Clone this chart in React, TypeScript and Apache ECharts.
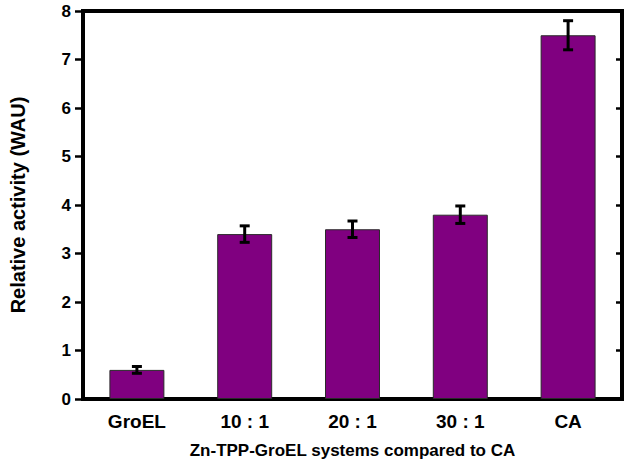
import React, { useEffect, useRef } from "react";
import * as echarts from "echarts";

const categories = ["GroEL", "10 : 1", "20 : 1", "30 : 1", "CA"];
const activity = [0.6, 3.4, 3.5, 3.8, 7.5];
const errors = [0.07, 0.17, 0.17, 0.18, 0.3];

const FONT = "'Liberation Sans', Arial, sans-serif";
const INK = "#000000";

export default function App() {
  const ref = useRef<HTMLDivElement>(null);
  useEffect(() => {
    if (!ref.current) return;
    const chart = echarts.init(ref.current, null, { renderer: "svg" });
    const errData = categories.map((c, i) => [i, activity[i] - errors[i], activity[i] + errors[i]]);
    chart.setOption({
      animation: false,
      grid: {
        left: 80,
        right: 7,
        top: 11,
        bottom: 70,
        show: true,
        borderColor: INK,
        borderWidth: 4,
      },
      xAxis: [
        {
          type: "category",
          data: categories,
          position: "bottom",
          name: "Zn-TPP-GroEL systems compared to CA",
          nameLocation: "middle",
          nameGap: 43,
          nameTextStyle: { fontFamily: FONT, fontWeight: "bold", fontSize: 17, color: INK },
          axisLine: { show: true, onZero: false, lineStyle: { color: INK, width: 4 } },
          axisTick: { alignWithLabel: true, length: 9, lineStyle: { color: INK, width: 2.5 } },
          axisLabel: { margin: 13, fontFamily: FONT, fontWeight: "bold", fontSize: 19, color: INK },
          splitLine: { show: false },
        },
      ],
      yAxis: [
        {
          type: "value",
          min: 0,
          max: 8,
          interval: 1,
          position: "left",
          name: "Relative activity (WAU)",
          nameLocation: "middle",
          nameGap: 55,
          nameTextStyle: { fontFamily: FONT, fontWeight: "bold", fontSize: 20, color: INK },
          axisLine: { show: true, lineStyle: { color: INK, width: 4 } },
          axisTick: { show: true, length: 8, lineStyle: { color: INK, width: 2.5 } },
          axisLabel: { margin: 12, fontFamily: FONT, fontWeight: "bold", fontSize: 17, color: INK },
          splitLine: { show: false },
        },
        {
          type: "value",
          min: 0,
          max: 8,
          interval: 1,
          position: "right",
          axisLine: { show: true, lineStyle: { color: INK, width: 4 } },
          axisTick: { show: true, inside: true, length: 6, lineStyle: { color: INK, width: 2.5 } },
          axisLabel: { show: false },
          splitLine: { show: false },
        },
      ],
      series: [
        {
          type: "bar",
          data: activity,
          barWidth: "51%",
          itemStyle: { color: "#800080", borderColor: "#2a2a2a", borderWidth: 1 },
          z: 2,
        },
        {
          type: "custom",
          data: errData,
          z: 5,
          renderItem: (params: any, api: any) => {
            const x = api.value(0);
            const lo = api.coord([x, api.value(1)]);
            const hi = api.coord([x, api.value(2)]);
            const half = 5;
            const style = { stroke: INK, lineWidth: 3, fill: "none" };
            return {
              type: "group",
              children: [
                { type: "line", shape: { x1: lo[0], y1: lo[1], x2: hi[0], y2: hi[1] }, style },
                { type: "line", shape: { x1: hi[0] - half, y1: hi[1], x2: hi[0] + half, y2: hi[1] }, style },
                { type: "line", shape: { x1: lo[0] - half, y1: lo[1], x2: lo[0] + half, y2: lo[1] }, style },
              ],
            };
          },
        },
      ],
    });
    return () => chart.dispose();
  }, []);
  return <div ref={ref} style={{ position: "absolute", left: 0, top: 0, width: 629, height: 469 }} />;
}
